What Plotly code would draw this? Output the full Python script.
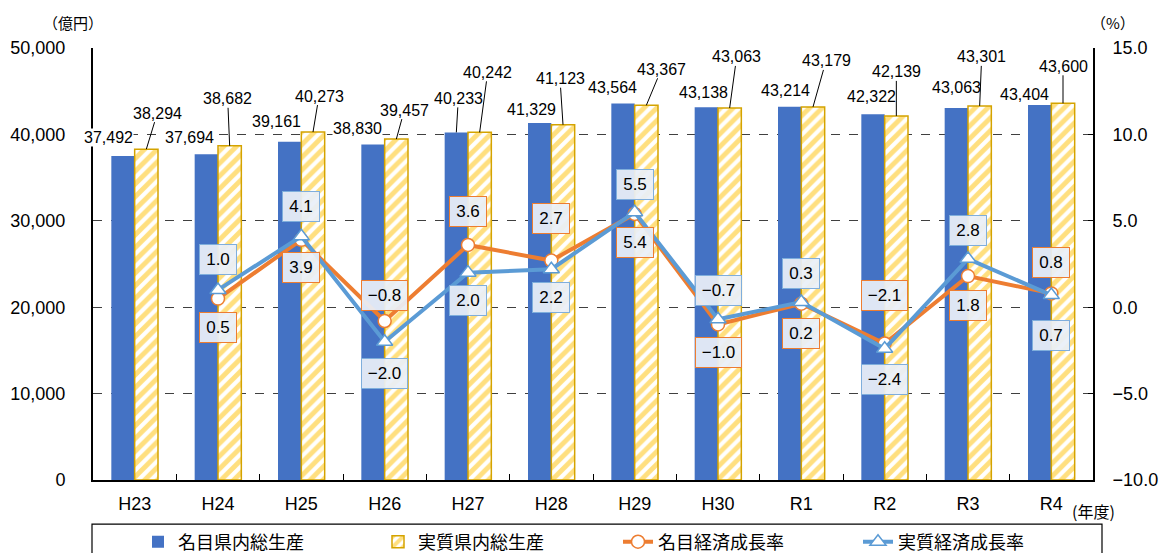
import plotly.graph_objects as go

# ---------------- data ----------------
years = ["H23", "H24", "H25", "H26", "H27", "H28", "H29", "H30", "R1", "R2", "R3", "R4"]
nominal_gdp = [37492, 37694, 39161, 38830, 40233, 41329, 43564, 43138, 43214, 42322, 43063, 43404]
real_gdp = [38294, 38682, 40273, 39457, 40242, 41123, 43367, 43063, 43179, 42139, 43301, 43600]
nominal_growth = [None, 0.5, 3.9, -0.8, 3.6, 2.7, 5.4, -1.0, 0.2, -2.1, 1.8, 0.8]
real_growth = [None, 1.0, 4.1, -2.0, 2.0, 2.2, 5.5, -0.7, 0.3, -2.4, 2.8, 0.7]

# ---------------- label placement (pixel offsets) ----------------
nom_lbl_off = [(-15, -19), (-17, -17), (-13, -20), (-16, -16), (2, -34), (-8, -13),
               (-11, -16), (-3, -15), (-4, -16), (-2, -18), (0, -20), (-15, -10)]
nom_lbl_leader = [False, False, False, False, True, False, False, False, False, False, False, False]
real_lbl_off = [(11, -36), (-2, -47), (6, -36), (8, -29), (8, -60), (-3, -46),
                (15, -36), (7, -51), (13, -46), (0, -44), (2, -49), (0, -37)]
nom_growth_shift = [None, -29, -28, 26, 33, 42, -29, -28, -30, 48, -29, 31]
real_growth_shift = [None, 30, 30, -32, -28, -28, 28, 29, 29, -31, 28, -40]

BLUE = "#4472C4"
GOLD = "#FFC000"
ORANGE = "#ED7D31"
LBLUE = "#5B9BD5"
NUM_FONT = "Liberation Sans, Arial, sans-serif"
JP_FONT = "Noto Sans CJK JP, sans-serif"

fig = go.Figure()
fig.add_trace(go.Bar(
    x=years, y=nominal_gdp, name="名目県内総生産",
    marker=dict(color=BLUE, line=dict(width=0)),
))
fig.add_trace(go.Bar(
    x=years, y=real_gdp, name="実質県内総生産",
    marker=dict(color="white", line=dict(color="#D4A300", width=1.5),
                pattern=dict(shape="/", fgcolor=GOLD, bgcolor="white", size=9, solidity=0.55)),
))
fig.add_trace(go.Scatter(
    x=years, y=nominal_growth, name="名目経済成長率", yaxis="y2", mode="lines+markers",
    line=dict(color=ORANGE, width=4),
    marker=dict(symbol="circle", size=13, color="white", line=dict(color=ORANGE, width=1.5)),
))
fig.add_trace(go.Scatter(
    x=years, y=real_growth, name="実質経済成長率", yaxis="y2", mode="lines+markers",
    line=dict(color=LBLUE, width=4),
    marker=dict(symbol="triangle-up", size=14, color="white", line=dict(color=LBLUE, width=1.5)),
))

annotations = []
BW = 0.28  # bar width in category units
for i in range(len(years)):
    ax, ay = nom_lbl_off[i]
    annotations.append(dict(
        x=i - BW / 2, y=nominal_gdp[i], xref="x", yref="y",
        text=f"{nominal_gdp[i]:,}", showarrow=True, arrowhead=0, arrowwidth=1,
        arrowcolor="black" if nom_lbl_leader[i] else "rgba(0,0,0,0)",
        ax=ax, ay=ay, font=dict(family=NUM_FONT, size=16, color="black"),
        bgcolor="white", borderpad=0,
    ))
    ax, ay = real_lbl_off[i]
    annotations.append(dict(
        x=i + BW / 2, y=real_gdp[i], xref="x", yref="y",
        text=f"{real_gdp[i]:,}", showarrow=True, arrowhead=0, arrowwidth=1,
        arrowcolor="black", ax=ax, ay=ay,
        font=dict(family=NUM_FONT, size=16, color="black"),
        bgcolor="white", borderpad=0,
    ))


def fmt(v):
    return f"{v:.1f}".replace("-", "\u2212")


for i in range(len(years)):
    for vals, shifts, col in ((nominal_growth, nom_growth_shift, ORANGE),
                              (real_growth, real_growth_shift, "#7FAEDC")):
        if vals[i] is None:
            continue
        t = fmt(vals[i])
        annotations.append(dict(
            x=i, y=vals[i], xref="x", yref="y2", text=t, showarrow=False,
            yshift=shifts[i], xanchor="center", yanchor="middle",
            font=dict(family=NUM_FONT, size=17, color="black"),
            bgcolor="rgba(234,239,247,0.93)", bordercolor=col, borderwidth=1,
            borderpad=4, width=28 if len(t) <= 3 else 37, height=21,
        ))

annotations += [
    dict(text="（億円）", x=-0.02, y=1.058, xref="paper", yref="paper", showarrow=False,
         xanchor="center", yanchor="middle", font=dict(family=JP_FONT, size=15, color="black")),
    dict(text="（%）", x=1.02, y=1.060, xref="paper", yref="paper", showarrow=False,
         xanchor="center", yanchor="middle", font=dict(family=JP_FONT, size=15, color="black")),
    dict(text="(年度)", x=1.0, y=-0.072, xref="paper", yref="paper", showarrow=False,
         xanchor="center", yanchor="middle", font=dict(family=JP_FONT, size=16, color="black")),
]

fig.update_layout(
    width=1160, height=553,
    margin=dict(l=93, r=67, t=48, b=73, autoexpand=False),
    paper_bgcolor="white", plot_bgcolor="white",
    barmode="group", bargap=0.44, bargroupgap=0,
    font=dict(family=NUM_FONT, size=18, color="black"),
    xaxis=dict(
        type="category", showline=True, linecolor="black", linewidth=2,
        ticks="inside", ticklen=6, tickcolor="black", tickson="boundaries",
        tickfont=dict(family=NUM_FONT, size=18), showgrid=False,
        ticklabelstandoff=6, range=[-0.5, 11.5], automargin=False,
    ),
    yaxis=dict(
        range=[0, 50000], dtick=10000, tickformat=",d",
        showline=True, linecolor="black", linewidth=2,
        showgrid=True, gridcolor="#404040", griddash="dash", gridwidth=1,
        ticks="", tickfont=dict(family=NUM_FONT, size=18),
        ticklabelstandoff=22, zeroline=False, automargin=False,
    ),
    yaxis2=dict(
        range=[-10, 15], dtick=5, tickformat=".1f", overlaying="y", side="right",
        showline=True, linecolor="black", linewidth=2, showgrid=False, zeroline=False,
        ticks="inside", ticklen=5, tickcolor="black",
        tickfont=dict(family=NUM_FONT, size=18), ticklabelstandoff=14, automargin=False,
    ),
    legend=dict(
        orientation="h", x=0.045, xanchor="left", y=-0.1435, yanchor="middle",
        font=dict(family=JP_FONT, size=18, color="black"),
        bgcolor="rgba(0,0,0,0)", borderwidth=0, entrywidth=195,
        traceorder="normal",
    ),
    shapes=[dict(type="rect", xref="paper", yref="paper", x0=-0.001, x1=1.009,
                 y0=-0.102, y1=-0.25, line=dict(color="black", width=1.2),
                 fillcolor="rgba(0,0,0,0)", layer="below")],
    annotations=annotations,
    showlegend=True,
)

fig.write_html("out.html")
